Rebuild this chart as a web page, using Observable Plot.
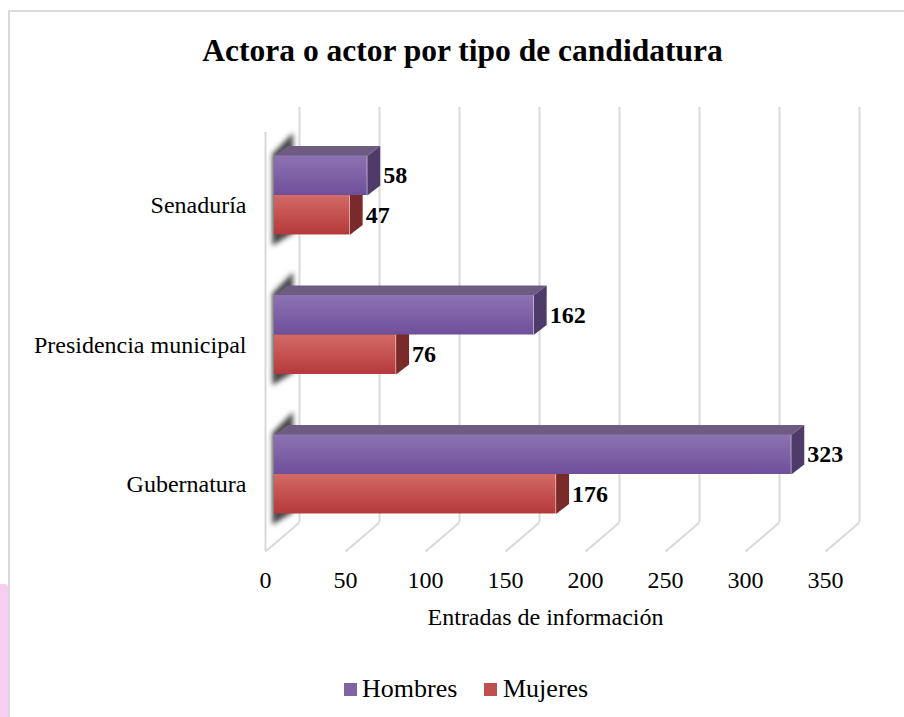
<!DOCTYPE html>
<html><head><meta charset="utf-8">
<script src="https://cdn.jsdelivr.net/npm/d3@7"></script>
<script src="https://cdn.jsdelivr.net/npm/@observablehq/plot@0.6"></script>
<style>
html,body{margin:0;padding:0;background:#fff;overflow:hidden;}
#page{position:relative;width:904px;height:717px;font-family:"Liberation Serif","Times New Roman",serif;color:#000;}
#bt{position:absolute;left:8px;top:10px;width:896px;height:2px;background:#d9d9d9;}
#bl{position:absolute;left:8px;top:10px;width:2px;height:707px;background:#d9d9d9;}
#pink{position:absolute;left:0;top:584px;width:8px;height:133px;background:#f7cdf1;border-top-right-radius:4px;}
#title{position:absolute;left:12px;width:901px;top:33px;height:36px;line-height:36px;text-align:center;font-weight:bold;font-size:31.5px;white-space:nowrap;}
#chart{position:absolute;left:0;top:90px;}
.sw{position:absolute;width:13px;height:13px;top:683px;}
.lt{position:absolute;top:674px;font-size:26px;line-height:30px;white-space:nowrap;}
</style></head><body>
<div id="page">
  <div id="bt"></div><div id="bl"></div><div id="pink"></div>
  <div id="title"></div>
  <div id="chart"></div>
  <div class="sw" style="left:344px;background:#8064a2"></div><div class="lt" id="l0" style="left:362px"></div>
  <div class="sw" style="left:484px;background:#c0504d"></div><div class="lt" id="l1" style="left:503px"></div>
</div>
<script>
// ---- data ----
const title = "Actora o actor por tipo de candidatura";
const categories = ["Senaduría", "Presidencia municipal", "Gubernatura"];
const series = ["Hombres", "Mujeres"];
const hombres = [58, 162, 323];
const mujeres = [47, 76, 176];
const xTicks = [0, 50, 100, 150, 200, 250, 300, 350];
const xLabel = "Entradas de información";

// ---- 3D geometry (in scale units) ----
const BAR_H = 0.283, DEPTH_X = 8.1, DEPTH_Y = 0.072, FRONT_DX = -25;
const WALL_TOP = -0.631, WALL_BOTTOM = 2.344, FLOOR_FRONT = 2.552, SIDE_TOP = -0.452, FLOOR_SHIFT = 21.25;
const FONT = "Liberation Serif, Times New Roman, serif";
const SHADOW = "#333333";

document.getElementById("title").textContent = title;
document.getElementById("l0").textContent = series[0];
document.getElementById("l1").textContent = series[1];

const rows = categories.flatMap((c, i) => [
  {cat: c, serie: "Mujeres", value: mujeres[i], y1: i, y2: i + BAR_H},
  {cat: c, serie: "Hombres", value: hombres[i], y1: i - BAR_H, y2: i}
]);
const poly = (r, pts, kind) => pts.map(([x, y]) => ({x, y, id: r.cat + kind}));
const topFace = r => poly(r, [[0, r.y1], [r.value, r.y1], [r.value + DEPTH_X, r.y1 - DEPTH_Y], [DEPTH_X, r.y1 - DEPTH_Y]], "t");
const sideFace = r => poly(r, [[r.value, r.y1], [r.value + DEPTH_X, r.y1 - DEPTH_Y], [r.value + DEPTH_X, r.y2 - DEPTH_Y], [r.value, r.y2]], "s");
const M = rows.filter(d => d.serie === "Mujeres"), H = rows.filter(d => d.serie === "Hombres");
const shadows = categories.flatMap((c, i) => [[-17, i - 0.30], [-4, i - 0.45], [-4, i + 0.27], [-17, i + 0.36]].map(([x, y]) => ({x, y, id: c})));

const faces = (data, topC, sideC, frontC) => [
  Plot.line(data.flatMap(topFace), {x: "x", y: "y", z: "id", fill: topC, stroke: "none", dx: FRONT_DX}),
  Plot.line(data.flatMap(sideFace), {x: "x", y: "y", z: "id", fill: sideC, stroke: "none", dx: FRONT_DX}),
  Plot.rect(data, {x1: 0, x2: "value", y1: "y1", y2: "y2", fill: frontC, dx: FRONT_DX})
];

const svg = Plot.plot({
  width: 904, height: 550,
  style: {background: "transparent", overflow: "visible"},
  x: {domain: [0, 350], range: [299, 859], axis: null},
  y: {domain: [-0.5, 2.5], range: [35.25, 453.75], axis: null},
  marks: [
    Plot.ruleX(xTicks, {y1: WALL_TOP, y2: WALL_BOTTOM, stroke: "#d9d9d9", strokeWidth: 2}),
    Plot.link(xTicks, {x1: d => d, y1: WALL_BOTTOM, x2: d => d - FLOOR_SHIFT, y2: FLOOR_FRONT, stroke: "#d9d9d9", strokeWidth: 2}),
    Plot.ruleX([-FLOOR_SHIFT], {y1: SIDE_TOP, y2: FLOOR_FRONT, stroke: "#d9d9d9", strokeWidth: 2}),
    Plot.line(shadows, {x: "x", y: "y", z: "id", fill: SHADOW, fillOpacity: 0.9, stroke: "none"}),
    ...faces(M, "#a04845", "#7a2b29", "url(#gradM)"),
    ...faces(H, "#6e5b82", "#4e3b6a", "url(#gradH)"),
    Plot.text(rows, {x: "value", y: d => (d.y1 + d.y2) / 2, text: d => String(d.value), dx: -9, textAnchor: "start", fontWeight: "bold", fontSize: 24, fontFamily: FONT, fill: "#000"}),
    Plot.text(categories, {x: 0, y: (d, i) => i, text: d => d, dx: -53, dy: 10, textAnchor: "end", fontSize: 24, fontFamily: FONT, fill: "#000"}),
    Plot.text(xTicks, {x: d => d - FLOOR_SHIFT, y: 2.756, text: d => String(d), fontSize: 24, fontFamily: FONT, fill: "#000"}),
    Plot.text([xLabel], {x: 175 - FLOOR_SHIFT, y: 3.025, text: d => d, fontSize: 24, fontFamily: FONT, fill: "#000"})
  ]
});

const root = d3.select(svg);
const defs = root.insert("defs", ":first-child");
const grad = (id, stops) => {
  const g = defs.append("linearGradient").attr("id", id).attr("x1", 0).attr("y1", 0).attr("x2", 0).attr("y2", 1);
  stops.forEach(([o, c]) => g.append("stop").attr("offset", o).attr("stop-color", c));
};
grad("gradH", [[0, "#8d73b2"], [1, "#6f4f9a"]]);
grad("gradM", [[0, "#d26a66"], [1, "#b5393a"]]);
defs.append("filter").attr("id", "blur").attr("filterUnits", "userSpaceOnUse")
  .attr("x", 0).attr("y", 0).attr("width", 904).attr("height", 550)
  .append("feGaussianBlur").attr("stdDeviation", 2.5);
root.selectAll("path").filter(function () {
  const f = (this.getAttribute("fill") || (this.parentNode && this.parentNode.getAttribute("fill")) || "").toLowerCase();
  return f === SHADOW;
}).attr("filter", "url(#blur)");

document.getElementById("chart").appendChild(svg);
</script>
</body></html>
